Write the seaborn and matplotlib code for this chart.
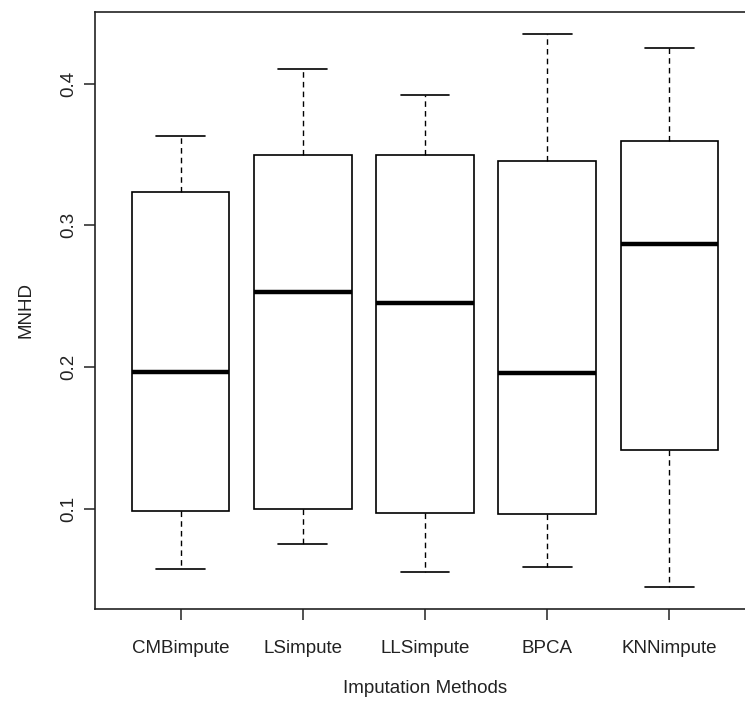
import matplotlib
matplotlib.use("Agg")

import pandas as pd
import matplotlib.pyplot as plt
import seaborn as sns

# resumo de cinco números (bigode inf., Q1, mediana, Q3, bigode sup.)
metodos = ["CMBimpute", "LSimpute", "LLSimpute", "BPCA", "KNNimpute"]
bigode_inf = [0.0574, 0.0750, 0.0553, 0.0589, 0.0447]
q1 = [0.0986, 0.1000, 0.0972, 0.0962, 0.1412]
mediana = [0.1965, 0.2528, 0.2454, 0.1957, 0.2865]
q3 = [0.3234, 0.3498, 0.3493, 0.3454, 0.3595]
bigode_sup = [0.3630, 0.4106, 0.3920, 0.4350, 0.4255]

linhas = []
for i, m in enumerate(metodos):
    for v in (bigode_inf[i], q1[i], mediana[i], q3[i], bigode_sup[i]):
        linhas.append({"metodo": m, "MNHD": v})
df = pd.DataFrame(linhas)

sns.set_style("ticks")
plt.rcParams["font.family"] = ["Liberation Sans", "DejaVu Sans"]

fig = plt.figure(figsize=(7.45, 7.01), dpi=100)
ax = fig.add_axes([95 / 745, 92 / 701, 660 / 745, 597 / 701])

sns.boxplot(
    data=df, x="metodo", y="MNHD", order=metodos, ax=ax,
    color="white", linecolor="black", linewidth=1.2, width=0.8,
    whis=1.5, showfliers=False, saturation=1,
    medianprops={"linewidth": 3.2, "color": "black"},
    whiskerprops={"linestyle": (0, (4, 3)), "linewidth": 1.0},
    capprops={"linewidth": 1.2},
)

lo, hi = min(bigode_inf), max(bigode_sup)
pad = 0.04 * (hi - lo)
ax.set_ylim(lo - pad, hi + pad)
ax.set_xlim(-0.7, 4.7)
ax.set_yticks([0.1, 0.2, 0.3, 0.4])
ax.set_yticklabels(["0.1", "0.2", "0.3", "0.4"], rotation=90, va="center")

for lado in ax.spines.values():
    lado.set_color("#222222")
    lado.set_linewidth(1.2)

ax.tick_params(axis="both", length=8, width=1.1, color="#222222",
               labelsize=13.5, labelcolor="#222222")
ax.tick_params(axis="x", pad=14)
ax.tick_params(axis="y", pad=5)

ax.set_xlabel("Imputation Methods", fontsize=13.5, color="#222222", labelpad=17)
ax.set_ylabel("MNHD", fontsize=13.5, color="#222222", labelpad=18)

fig.savefig("out.png", dpi=100)
plt.close(fig)
